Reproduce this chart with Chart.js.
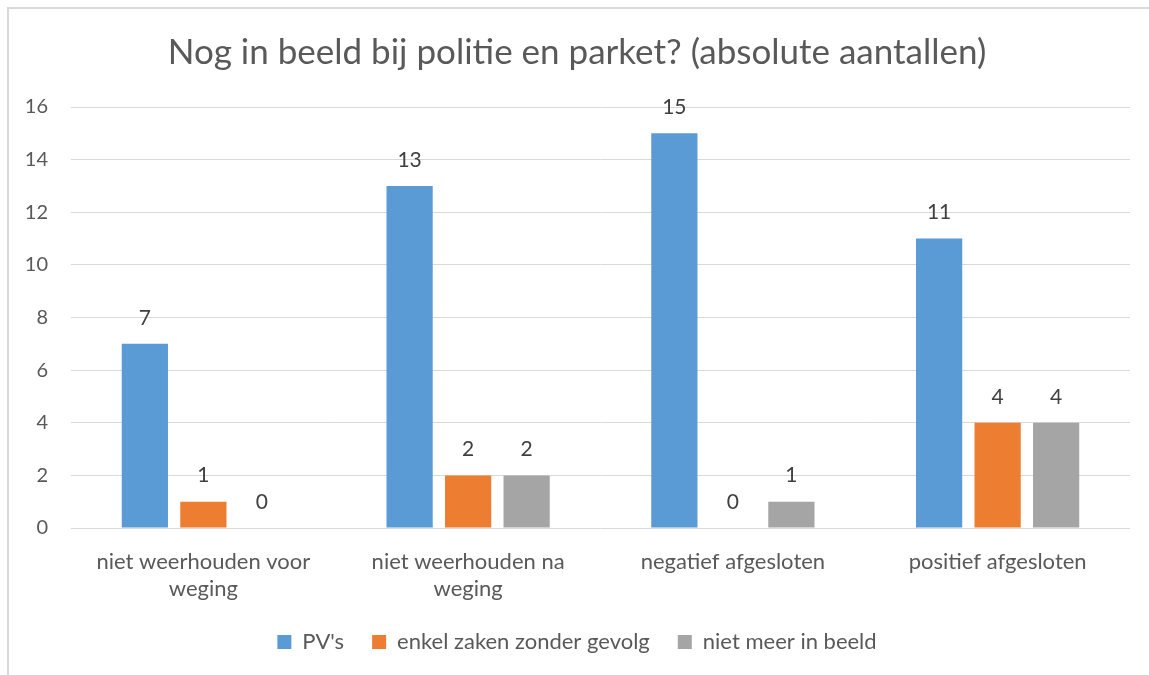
<!DOCTYPE html>
<html>
<head>
<meta charset="utf-8">
<script src="https://cdn.jsdelivr.net/npm/chart.js@4/dist/chart.umd.min.js"></script>
<style>
  html, body { margin: 0; padding: 0; background: #fff; overflow: hidden; }
  #wrap { position: relative; width: 1149px; height: 675px; }
  #myChart { position: absolute; left: 24px; top: 0; }
  #frame { position: absolute; left: 7px; top: 7px; width: 1160px; height: 690px; border: 2px solid #d9d9d9; box-sizing: border-box; pointer-events: none; }
</style>
</head>
<body>
<div id="wrap">
  <canvas id="myChart" width="1125" height="675"></canvas>
  <div id="frame"></div>
</div>
<script>
const categories = [
  ['niet weerhouden voor', 'weging'],
  ['niet weerhouden na', 'weging'],
  'negatief afgesloten',
  'positief afgesloten'
];
const pvs = [7, 13, 15, 11];
const zonderGevolg = [1, 2, 0, 4];
const nietMeer = [0, 2, 1, 4];
const yTicks = [0, 2, 4, 6, 8, 10, 12, 14, 16];

const fontFamily = 'Lato, "Open Sans", sans-serif';

// values above the bars
const valueLabels = {
  id: 'valueLabels',
  afterDatasetsDraw(chart) {
    const ctx = chart.ctx;
    ctx.save();
    ctx.font = '21px ' + fontFamily;
    ctx.fillStyle = '#404040';
    ctx.textAlign = 'center';
    ctx.textBaseline = 'middle';
    chart.data.datasets.forEach((ds, i) => {
      chart.getDatasetMeta(i).data.forEach((bar, j) => {
        ctx.fillText(ds.data[j], bar.x, bar.y - 26);
      });
    });
    ctx.restore();
  }
};

new Chart(document.getElementById('myChart'), {
  type: 'bar',
  data: {
    labels: categories,
    datasets: [
      { label: "PV's", data: pvs, backgroundColor: '#5b9bd5' },
      { label: 'enkel zaken zonder gevolg', data: zonderGevolg, backgroundColor: '#ed7d31' },
      { label: 'niet meer in beeld', data: nietMeer, backgroundColor: '#a5a5a5' }
    ]
  },
  options: {
    responsive: false,
    animation: false,
    layout: { padding: { top: 10, left: 0, right: 19, bottom: 12 } },
    datasets: { bar: { categoryPercentage: 0.663, barPercentage: 0.79 } },
    scales: {
      x: {
        grid: { display: false },
        border: { display: false },
        ticks: { color: '#595959', font: { family: fontFamily, size: 22, lineHeight: 1.23 }, padding: 12, maxRotation: 0 },
        afterFit(scale) { scale.height = 75; }
      },
      y: {
        min: 0,
        max: 16,
        afterBuildTicks(scale) { scale.ticks = yTicks.map(v => ({ value: v })); },
        grid: { color: '#d9d9d9', lineWidth: 1, drawTicks: false },
        border: { display: false },
        ticks: { color: '#595959', font: { family: fontFamily, size: 20 }, padding: 23 },
        afterFit(scale) { scale.width = 47; }
      }
    },
    plugins: {
      title: {
        display: true,
        text: 'Nog in beeld bij politie en parket? (absolute aantallen)',
        color: '#595959',
        font: { family: fontFamily, size: 35, weight: 'normal' },
        padding: { top: 22, bottom: 33 }
      },
      legend: {
        position: 'bottom',
        labels: { color: '#595959', font: { family: fontFamily, size: 22 }, boxWidth: 14, boxHeight: 14, padding: 28 }
      },
      tooltip: { enabled: false }
    }
  },
  plugins: [valueLabels]
});
</script>
</body>
</html>
